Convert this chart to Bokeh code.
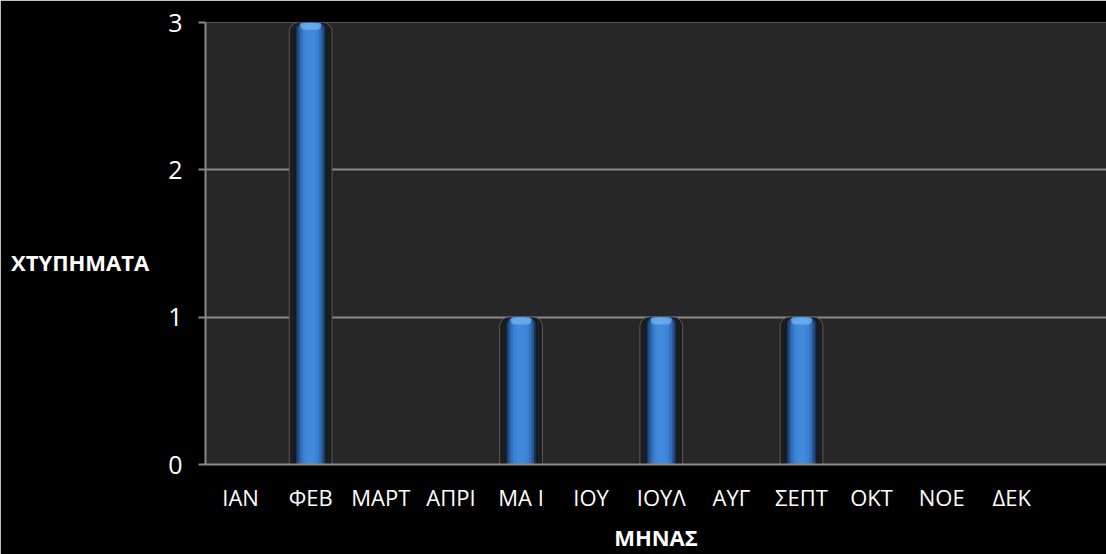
from bokeh.plotting import figure
from bokeh.models import ColumnDataSource, Range1d, FixedTicker
from bokeh.embed import file_html
from bokeh.resources import INLINE

months = ["ΙΑΝ", "ΦΕΒ", "ΜΑΡΤ", "ΑΠΡΙ", "ΜΑ Ι", "ΙΟΥ", "ΙΟΥΛ", "ΑΥΓ", "ΣΕΠΤ", "ΟΚΤ", "ΝΟΕ", "ΔΕΚ"]
hits = [0, 3, 0, 0, 1, 0, 1, 0, 1, 0, 0, 0]
y_ticks = [0, 1, 2, 3]
x_title = "ΜΗΝΑΣ"
y_title = "ΧΤΥΠΗΜΑΤΑ"

idx = [i for i, v in enumerate(hits) if v > 0]
src = ColumnDataSource(dict(
    x=idx,
    top=[hits[i] for i in idx],
    hl_bottom=[hits[i] - 0.05 for i in idx],
))

W, H = 1106, 554
p = figure(width=W, height=H, output_backend="svg", toolbar_location=None,
           x_range=Range1d(-0.5, 12.35), y_range=Range1d(0, 3),
           min_border_left=205, min_border_right=0, min_border_top=22, min_border_bottom=89)
p.background_fill_color = "#272727"
p.border_fill_color = "#000000"
p.outline_line_color = None

# bar frame
p.vbar(x="x", top="top", bottom=-0.03, width=0.61, source=src,
       fill_color="#1c1c1c", line_color="#5a5a5a", line_width=1, border_radius=[9, 9, 0, 0])
# cylinder layers
layers = [(0.46, "#101a28"), (0.42, "#1b355a"), (0.37, "#28568f"),
          (0.30, "#3371bd"), (0.22, "#3c82d6"), (0.12, "#4289dc")]
for w, c in layers:
    p.vbar(x="x", top="top", bottom=0, width=w, source=src,
           fill_color=c, line_color=None, border_radius=[7, 7, 0, 0])
# top highlight
p.vbar(x="x", top="top", bottom="hl_bottom", width=0.30, source=src,
       fill_color="#76b4f0", line_color=None, fill_alpha=0.75, border_radius=[6, 6, 10, 10])

# axes
p.xaxis.ticker = FixedTicker(ticks=list(range(len(months))))
p.xaxis.major_label_overrides = {i: m for i, m in enumerate(months)}
p.yaxis.ticker = FixedTicker(ticks=y_ticks)
for ax in (p.xaxis[0], p.yaxis[0]):
    ax.axis_line_color = "#8a8a8a"
    ax.axis_line_width = 2
    ax.major_label_text_color = "#ffffff"
    ax.major_label_text_font = "Open Sans"
    ax.minor_tick_line_color = None
    ax.axis_label_text_color = "#ffffff"
    ax.axis_label_text_font = "Open Sans"
    ax.axis_label_text_font_style = "bold"
    ax.axis_label_text_font_size = "22px"
p.xaxis.major_tick_line_color = None
p.xaxis.major_label_text_font_size = "22px"
p.xaxis.major_label_standoff = 11
p.xaxis.axis_label = x_title
p.xaxis.axis_label_standoff = 7
p.yaxis.major_tick_line_color = "#8a8a8a"
p.yaxis.major_tick_line_width = 2
p.yaxis.major_tick_out = 7
p.yaxis.major_tick_in = 0
p.yaxis.major_label_text_font_size = "25px"
p.yaxis.major_label_standoff = 16
p.yaxis.axis_label = "\n" + y_title
p.yaxis.axis_label_orientation = "horizontal"
p.yaxis.axis_label_standoff = 16

p.xgrid.grid_line_color = None
p.ygrid.grid_line_color = "#8a8a8a"
p.ygrid.grid_line_width = 2

open("out.html", "w").write(file_html(p, INLINE))
